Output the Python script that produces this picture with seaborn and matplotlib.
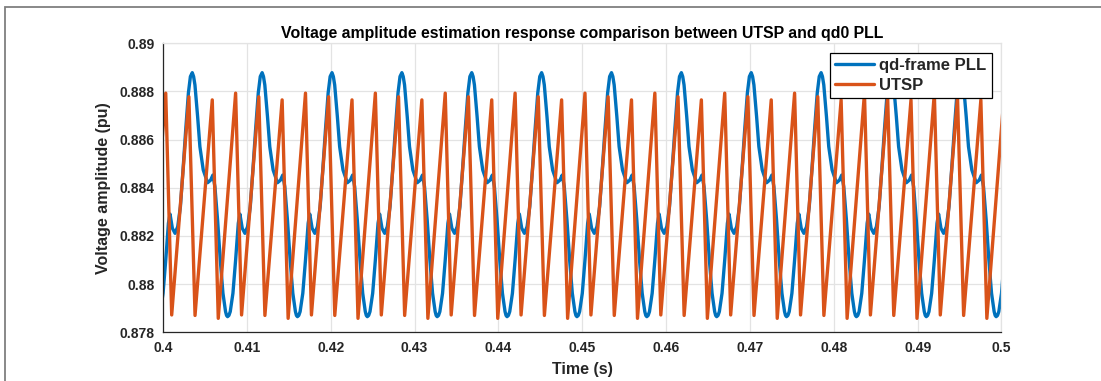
import numpy as np
import pandas as pd
import matplotlib
matplotlib.use("Agg")
import matplotlib.pyplot as plt
from matplotlib.patches import Rectangle
import seaborn as sns

# ---- data ----
title = "Voltage amplitude estimation response comparison between UTSP and qd0 PLL"
xlabel = "Time (s)"
ylabel = "Voltage amplitude (pu)"
series_names = ["qd-frame PLL", "UTSP"]

period_s = 0.008333          # repetition period of both waveforms (read)
first_peak_s = 0.40349       # time of first blue peak (read)

# one period of the qd-frame PLL trace, ms relative to its peak
pll_cycle_ms = [0.0, 0.16, 0.32, 0.64, 0.91, 1.31, 1.83, 2.19, 2.46, 2.70, 3.02,
                3.34, 3.66, 3.97, 4.09, 4.21, 4.37, 4.53, 4.85, 5.17, 5.49, 5.68,
                5.96, 6.28, 6.60, 6.92, 7.23, 7.55, 7.87, 8.11]
pll_cycle_v = [0.88878, 0.88862, 0.88827, 0.88695, 0.88571, 0.88474, 0.88421,
               0.88432, 0.88453, 0.88405, 0.88266, 0.88100, 0.87962, 0.87886,
               0.87870, 0.87865, 0.87870, 0.87886, 0.87962, 0.88100, 0.88253,
               0.88291, 0.88232, 0.88211, 0.88239, 0.88322, 0.88474, 0.88640,
               0.88793, 0.88862]

# one period of the UTSP sawtooth vertices, ms relative to the blue peak
utsp_cycle_ms = [-0.40, 0.33, 2.385, 3.10, 5.17, 5.88]
utsp_cycle_v = [0.88778, 0.87870, 0.88765, 0.87858, 0.88793, 0.87872]

xticks = [0.4, 0.41, 0.42, 0.43, 0.44, 0.45, 0.46, 0.47, 0.48, 0.49, 0.5]
xtick_labels = ["0.4", "0.41", "0.42", "0.43", "0.44", "0.45", "0.46", "0.47",
                "0.48", "0.49", "0.5"]
yticks = [0.878, 0.88, 0.882, 0.884, 0.886, 0.888, 0.89]
ytick_labels = ["0.878", "0.88", "0.882", "0.884", "0.886", "0.888", "0.89"]
cycles = range(-1, 13)

# ---- build the series from the repeating read period ----
def tile(cycle_ms, cycle_v):
    t, v = [], []
    for k in cycles:
        base = first_peak_s + k * period_s
        t += [base + m / 1000.0 for m in cycle_ms]
        v += list(cycle_v)
    return t, v

pll_t, pll_v = tile(pll_cycle_ms, pll_cycle_v)
utsp_t, utsp_v = tile(utsp_cycle_ms, utsp_cycle_v)
df_pll = pd.DataFrame({"t": pll_t, "v": pll_v})
df_utsp = pd.DataFrame({"t": utsp_t, "v": utsp_v})

# ---- style ----
sns.set_style("white")
plt.rcParams["font.family"] = ["Liberation Sans", "DejaVu Sans"]
plt.rcParams["font.weight"] = "bold"

W, H = 1101, 381
fig = plt.figure(figsize=(W / 100, H / 100), dpi=100)
ax = fig.add_axes([163 / W, 1 - 332.3 / H, (1001.5 - 163) / W, (332.3 - 43.3) / H])

blue = "#0072BD"
orange = "#D95319"
sns.lineplot(data=df_pll, x="t", y="v", ax=ax, color=blue, linewidth=2.4,
             label=series_names[0], sort=False, estimator=None)
sns.lineplot(data=df_utsp, x="t", y="v", ax=ax, color=orange, linewidth=2.4,
             label=series_names[1], sort=False, estimator=None)

ax.set_xlim(0.4, 0.5)
ax.set_ylim(0.878, 0.89)
ax.set_xticks(xticks)
ax.set_xticklabels(xtick_labels, fontsize=10, fontweight="bold", color="#262626")
ax.set_yticks(yticks)
ax.set_yticklabels(ytick_labels, fontsize=10, fontweight="bold", color="#262626")
ax.tick_params(direction="in", length=5, width=0.8, color="#262626", pad=6,
               top=False, right=False)
ax.grid(True, color="#E3E3E3", linewidth=0.9)
ax.set_axisbelow(True)
for s in ["left", "bottom"]:
    ax.spines[s].set_color("#262626")
    ax.spines[s].set_linewidth(0.9)
for s in ["top", "right"]:
    ax.spines[s].set_color("#E3E3E3")
    ax.spines[s].set_linewidth(0.9)

ax.set_xlabel(xlabel, fontsize=11.5, fontweight="bold", color="#262626", labelpad=5)
ax.set_ylabel(ylabel, fontsize=11.5, fontweight="bold", color="#262626", labelpad=6)
ax.set_title(title, fontsize=11.4, fontweight="bold", color="#000000", pad=4)

leg = ax.legend(loc="upper right",
                bbox_to_anchor=((991.7 - 163) / (1001.5 - 163), 1 - (53.3 - 43.3) / 289),
                prop={"weight": "bold", "size": 12}, frameon=True, fancybox=False,
                edgecolor="black", framealpha=1, handlelength=2.3, borderpad=0.3,
                labelspacing=0.3, handletextpad=0.35, borderaxespad=0)
leg.get_frame().set_linewidth(0.9)

# screenshot frame around the figure
fig.add_artist(Rectangle((5 / W, -0.2), 1.2, 1.2 - 7.3 / H, transform=fig.transFigure,
                         fill=False, edgecolor="#7f7f7f", linewidth=1.3))

fig.savefig("out.png", dpi=100)
